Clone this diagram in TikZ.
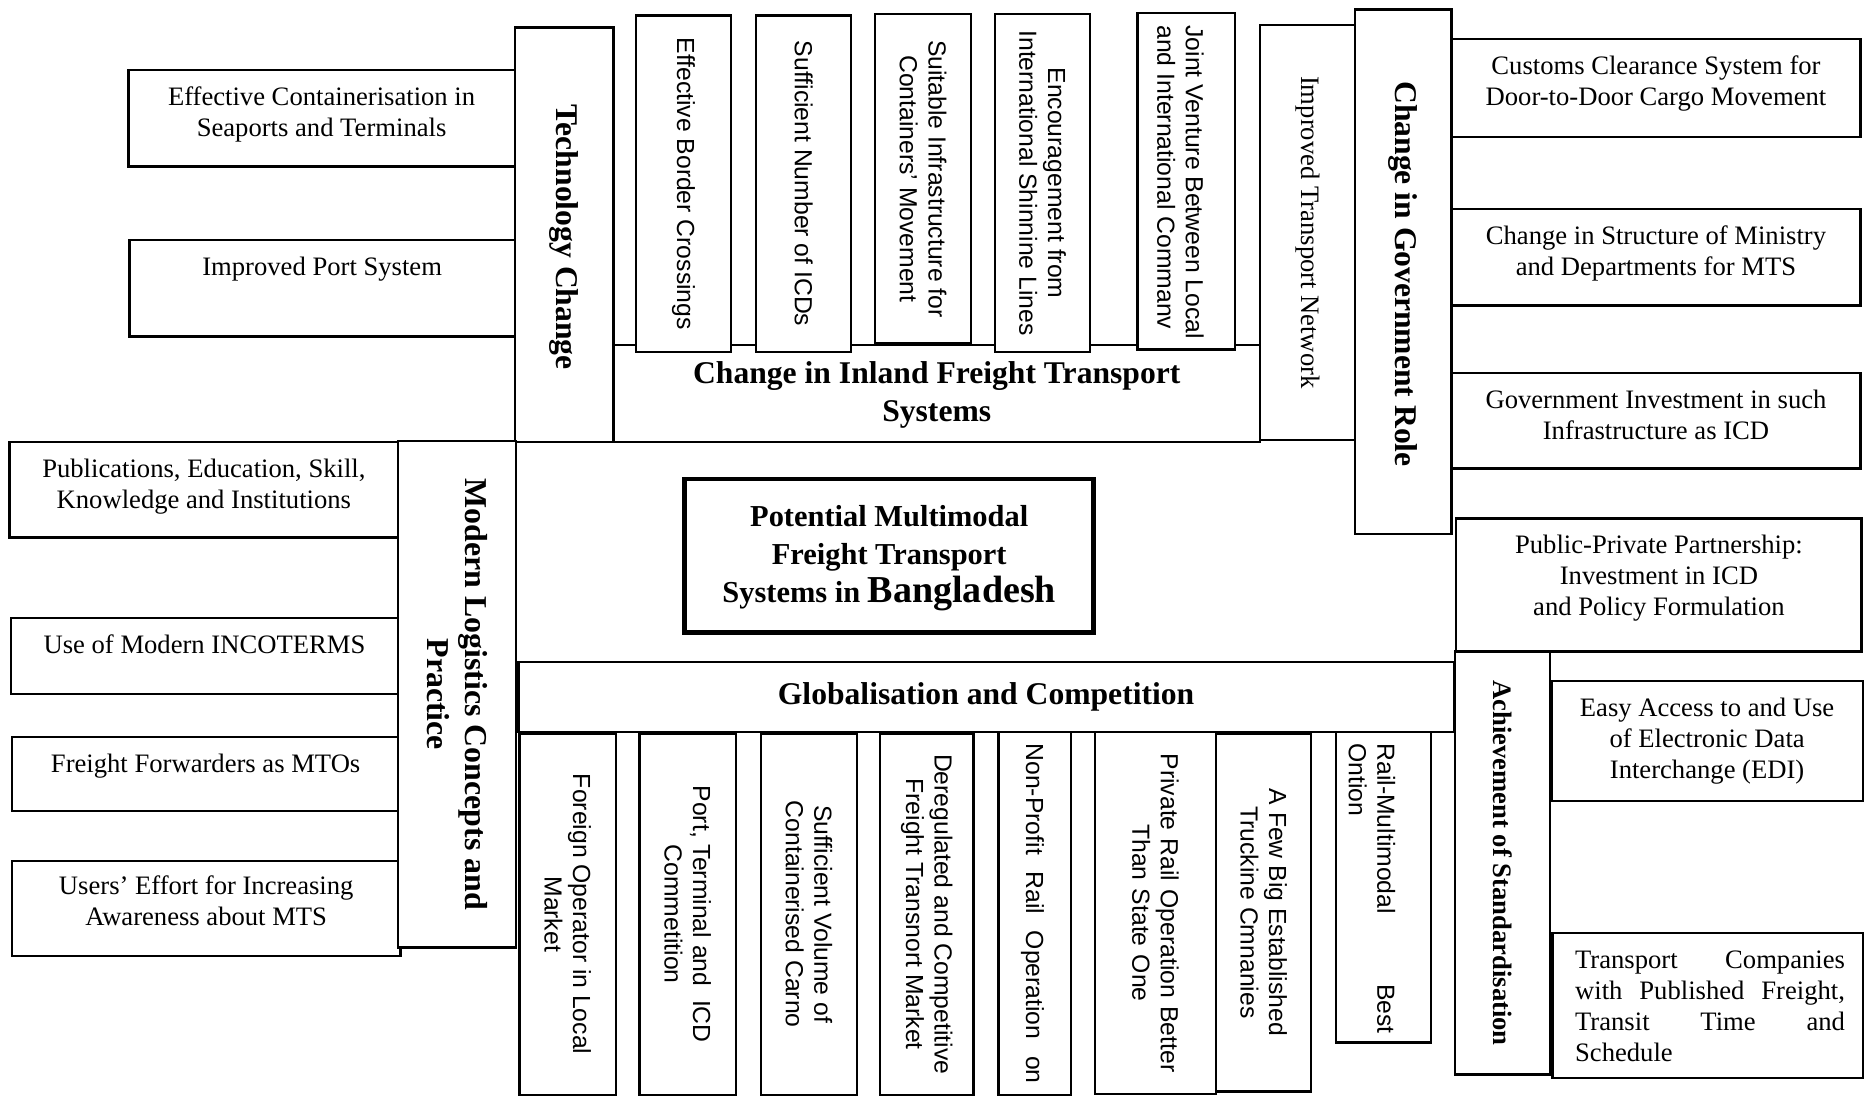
\documentclass[tikz,border=0pt]{standalone}
\usepackage{fontspec}
\setmainfont{Liberation Serif}
\setsansfont{Liberation Sans}
\tikzset{
  box/.style={draw, fill=white, line width=1pt, rectangle, inner sep=0pt, outer sep=0pt, anchor=north west},
  hd/.style={inner sep=0pt, align=center, font=\fontsize{13.3}{16}\selectfont\bfseries},
  rm/.style={inner sep=0pt, align=center, font=\fontsize{11.2}{13}\selectfont},
  sf/.style={inner sep=0pt, align=center, font=\fontsize{10.4}{12}\selectfont\sffamily},
  vert/.style={rotate=-90},
  toptext/.style={rm, anchor=north},
}
% \mkbox{name}{left}{top}{right}{bottom}, coordinates with y growing downwards
\newcommand\mkbox[6][]{\node[box,#1, minimum width={(#5-#3)*0.5pt}, minimum height={(#6-#4)*0.5pt}] (#2) at (#3,#4) {};}
\begin{document}
\begin{tikzpicture}[x=0.5pt, y=-0.5pt]
\useasboundingbox (0,0) rectangle (1568,923);

% ---- technology change branch
\mkbox{effc}{108}{59}{433}{140}
\mkbox{port}{109}{202}{433}{283}
\mkbox{tech}{433}{23}{516}{372}
\node[toptext] (effc-t) at ([yshift=-5.5pt]effc.north) {\strut Effective Containerisation in\\Seaports and Terminals};
\node[toptext] (port-t) at ([yshift=-5.5pt]port.north) {\strut Improved Port System};
\node[hd, vert] (tech-t) at ([yshift=-1pt]tech.center) {Technology Change};

% ---- inland freight transport branch
\mkbox{inland}{516}{290}{1060}{372}
\node[hd] (inland-t) at ([yshift=-0.5pt]inland.center) {Change in Inland Freight Transport\\Systems};
\mkbox{ebc}{535}{13}{615}{296}
\mkbox{sicd}{636}{13}{716}{296}
\mkbox{suit}{736}{12}{817}{289}
\mkbox{enc}{837}{12}{917}{296}
\mkbox{jv}{957}{11}{1039}{294}
\node[sf, vert] (ebc-t) at (ebc.center) {Effective Border Crossings};
\node[sf, vert] (sicd-t) at (sicd.center) {Sufficient Number of ICDs};
\node[sf, vert] (suit-t) at (suit.center) {Suitable Infrastructure for\\Containers' Movement};
\node[sf, vert] (enc-t) at (enc.center) {Encouragement from\\International Shinnine Lines};
\node[sf, vert, align=left, anchor=west] (jv-t) at ([xshift=-2.5pt, yshift=-5pt]jv.north) {Joint Venture Between Local\\and International Commanv};
\mkbox{itn}{1060}{21}{1140}{370}
\node[rm, vert] (itn-t) at (itn.center) {Improved Transport Network};

% ---- government role branch
\mkbox{gov}{1140}{8}{1221}{449}
\node[hd, vert] (gov-t) at ([yshift=-1pt]gov.center) {Change in Government Role};
\mkbox{cust}{1221}{33}{1565}{115}
\mkbox{struct}{1221}{176}{1565}{257}
\mkbox{ginv}{1221}{314}{1565}{394}
\mkbox{ppp}{1225}{436}{1566}{548}
\node[toptext] (cust-t) at ([yshift=-5.5pt]cust.north) {\strut Customs Clearance System for\\Door-to-Door Cargo Movement};
\node[toptext] (struct-t) at ([yshift=-5.5pt]struct.north) {\strut Change in Structure of Ministry\\and Departments for MTS};
\node[toptext] (ginv-t) at ([yshift=-5.5pt]ginv.north) {\strut Government Investment in such\\Infrastructure as ICD};
\node[toptext] (ppp-t) at ([yshift=-5.5pt]ppp.north) {\strut Public-Private Partnership:\\Investment in ICD\\and Policy Formulation};

% ---- standardisation branch
\mkbox{ach}{1224}{548}{1304}{904}
\node[vert, inner sep=0pt, font=\fontsize{11.2}{13}\selectfont\bfseries] (ach-t) at (ach.center) {Achievement of Standardisation};
\mkbox{edi}{1305}{573}{1567}{674}
\mkbox{tcomp}{1306}{785}{1567}{907}
\node[toptext] (edi-t) at ([yshift=-5.5pt]edi.north) {\strut Easy Access to and Use\\of Electronic Data\\Interchange (EDI)};
\node[toptext, text width=113.5pt, align=left] (tcomp-t) at ([xshift=1pt, yshift=-5.5pt]tcomp.north) {\strut Transport\hfill Companies\\with\hfill Published\hfill Freight,\\Transit\hfill Time\hfill and\\Schedule};

% ---- modern logistics branch
\mkbox{pub}{8}{372}{335}{452}
\mkbox{inco}{9}{520}{335}{584}
\mkbox{ffwd}{10}{620}{336}{682}
\mkbox{users}{10}{724}{337}{804}
\mkbox{mlog}{335}{371}{434}{797}
\node[toptext] (pub-t) at ([yshift=-5.5pt]pub.north) {\strut Publications, Education, Skill,\\Knowledge and Institutions};
\node[toptext] (inco-t) at ([yshift=-5.5pt]inco.north) {\strut Use of Modern INCOTERMS};
\node[toptext] (ffwd-t) at ([yshift=-5.5pt]ffwd.north) {\strut Freight Forwarders as MTOs};
\node[toptext] (users-t) at ([yshift=-5pt]users.north) {\strut Users' Effort for Increasing\\Awareness about MTS};
\node[vert, inner sep=0pt, align=center, font=\fontsize{13.4}{16}\selectfont\bfseries] (mlog-t) at (mlog.center) {Modern Logistics Concepts and\\Practice};

% ---- globalisation branch
\mkbox{glob}{436}{557}{1223}{616}
\node[hd] (glob-t) at (glob.center) {Globalisation and Competition};
\mkbox{fop}{437}{617}{518}{921}
\mkbox{ptc}{538}{617}{619}{921}
\mkbox{svc}{640}{617}{721}{921}
\mkbox{dcf}{740}{617}{819}{921}
\mkbox{npr}{840}{616}{901}{921}
\mkbox{prb}{921}{616}{1023}{920}
\mkbox{fbe}{1023}{617}{1103}{918}
\mkbox{rmb}{1124}{616}{1204}{877}
\node[sf, vert] (fop-t) at (fop.center) {Foreign Operator in Local\\Market};
\node[sf, vert] (ptc-t) at (ptc.center) {Port, Terminal and~ ICD\\Commetition};
\node[sf, vert] (svc-t) at (svc.center) {Sufficient Volume of\\Containerised Carno};
\node[sf, vert] (dcf-t) at (dcf.center) {Deregulated and Competitive\\Freight Transnort Market};
\node[sf, vert, text width=143pt, align=left] (npr-t) at ([xshift=-1pt]npr.center) {Non-Profit\hfill Rail\hfill Operation\hfill on};
\node[sf, vert, text width=134pt, align=center] (prb-t) at (prb.center) {Private\hfill Rail\hfill Operation\hfill Better\\Than State One};
\node[sf, vert] (fbe-t) at (fbe.center) {A Few Big Established\\Truckine Cmnanies};
\node[sf, vert, text width=122pt, align=left, anchor=west] (rmb-t) at ([xshift=-5pt, yshift=-4.5pt]rmb.north) {Rail-Multimodal\hfill Best\\Ontion};

% ---- central theme
\mkbox[line width=2pt]{pot}{576}{403}{920}{532}
\node[inner sep=0pt, align=center, font=\fontsize{12.8}{16}\selectfont\bfseries] (pot-t) at ([yshift=-1pt]pot.center) {Potential Multimodal\\Freight Transport\\Systems in {\fontsize{16}{17}\selectfont Bangladesh}};
\end{tikzpicture}
\end{document}
